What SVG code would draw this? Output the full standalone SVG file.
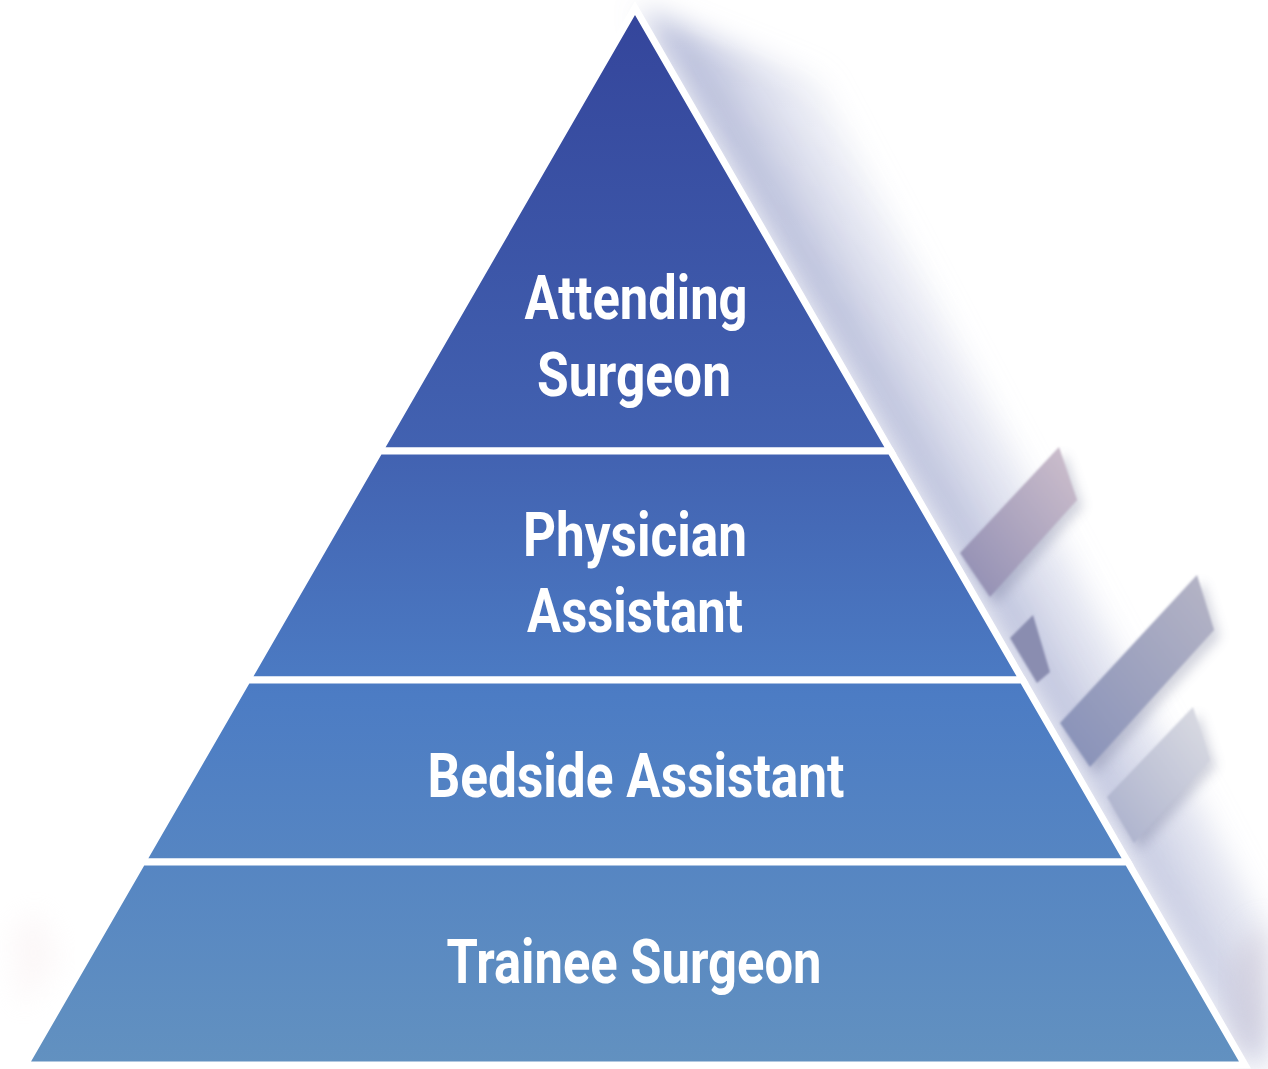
<svg xmlns="http://www.w3.org/2000/svg" width="1268" height="1069" viewBox="0 0 1268 1069">
<defs>
<linearGradient id="pyr" gradientUnits="userSpaceOnUse" x1="0" y1="8" x2="0" y2="1065">
<stop offset="0" stop-color="#34459b"/>
<stop offset="0.42" stop-color="#4262b1"/>
<stop offset="0.65" stop-color="#4c7cc4"/>
<stop offset="1" stop-color="#6291c0"/>
</linearGradient>
<linearGradient id="shade" gradientUnits="userSpaceOnUse" x1="900" y1="470" x2="1064" y2="375">
<stop offset="0" stop-color="#8e97c4" stop-opacity="0.8"/>
<stop offset="0.45" stop-color="#c0c5df" stop-opacity="0.45"/>
<stop offset="1" stop-color="#ffffff" stop-opacity="0"/>
</linearGradient>
<linearGradient id="fadeDown" gradientUnits="userSpaceOnUse" x1="0" y1="0" x2="0" y2="1069">
<stop offset="0" stop-color="#fff" stop-opacity="1"/>
<stop offset="0.7" stop-color="#fff" stop-opacity="0.85"/>
<stop offset="1" stop-color="#fff" stop-opacity="0.6"/>
</linearGradient>
<mask id="shadeMask"><rect width="1268" height="1069" fill="url(#fadeDown)"/></mask>
<linearGradient id="bar1" x1="0" y1="1" x2="1" y2="0">
<stop offset="0" stop-color="#8e8cb2"/>
<stop offset="1" stop-color="#cfc0cd"/>
</linearGradient>
<linearGradient id="bar3" x1="0" y1="1" x2="1" y2="0">
<stop offset="0" stop-color="#8690b8"/>
<stop offset="1" stop-color="#b6b5c6"/>
</linearGradient>
<linearGradient id="bar4" x1="0" y1="1" x2="1" y2="0">
<stop offset="0" stop-color="#a9afcb"/>
<stop offset="1" stop-color="#dcdde4"/>
</linearGradient>
<filter id="blur" x="-30%" y="-30%" width="160%" height="160%"><feGaussianBlur stdDeviation="14"/></filter>
<filter id="soft" x="-20%" y="-20%" width="140%" height="140%"><feGaussianBlur stdDeviation="1"/></filter>
<filter id="barshadow" x="-30%" y="-30%" width="160%" height="160%"><feGaussianBlur stdDeviation="6"/></filter>
</defs>
<style>
.band{fill:url(#pyr);stroke:#ffffff;stroke-width:7;stroke-linejoin:miter}
.lbl{font-family:"Roboto","Liberation Sans",sans-serif;font-weight:700;font-size:61px;fill:#ffffff;text-anchor:middle}
</style>
<rect width="1268" height="1069" fill="#ffffff"/>
<g id="background">
<g mask="url(#shadeMask)">
<polygon points="640,10 1248,1065 1268,1069 1268,930 820,80" fill="url(#shade)" filter="url(#blur)"/>
</g>
<path d="M10,930 L40,910 L60,960 L20,1010 Z" fill="#f4e6e8" opacity="0.3" filter="url(#blur)"/>
<path d="M1230,960 L1268,920 L1268,1030 L1240,1060 Z" fill="#c9c3d3" opacity="0.5" filter="url(#blur)"/>
<g filter="url(#barshadow)" opacity="0.3" fill="#6a6f90">
<polygon points="966,560 1065,454 1083,507 996,604"/>
<polygon points="1066,730 1203,582 1220,637 1096,774"/>
<polygon points="1113,804 1199,714 1216,767 1140,850"/>
</g>
<g filter="url(#soft)">
<polygon points="960,553 1059,447 1077,500 990,597" fill="url(#bar1)"/>
<polygon points="1010,638 1033,615 1050,672 1037,683" fill="#8a8db0"/>
<polygon points="1060,723 1197,575 1214,630 1090,767" fill="url(#bar3)"/>
<polygon points="1107,797 1193,707 1210,760 1134,843" fill="url(#bar4)"/>
</g>
</g>
<g id="attending-surgeon">
<polygon class="band" points="635,8 890.6,451 379.4,451"/>
<text class="lbl" x="636" y="319" textLength="223" lengthAdjust="spacingAndGlyphs">Attending</text>
<text class="lbl" x="634" y="396" textLength="194" lengthAdjust="spacingAndGlyphs">Surgeon</text>
</g>
<g id="physician-assistant">
<polygon class="band" points="379.4,451 890.6,451 1022.7,680 247.3,680"/>
<text class="lbl" x="635" y="556" textLength="224" lengthAdjust="spacingAndGlyphs">Physician</text>
<text class="lbl" x="635" y="632" textLength="216" lengthAdjust="spacingAndGlyphs">Assistant</text>
</g>
<g id="bedside-assistant">
<polygon class="band" points="247.3,680 1022.7,680 1127.8,862 142.2,862"/>
<text class="lbl" x="636" y="797" textLength="417" lengthAdjust="spacingAndGlyphs">Bedside Assistant</text>
</g>
<g id="trainee-surgeon">
<polygon class="band" points="142.2,862 1127.8,862 1245,1065 25,1065"/>
<text class="lbl" x="634" y="983" textLength="375" lengthAdjust="spacingAndGlyphs">Trainee Surgeon</text>
</g>
<g id="connectors"></g>
</svg>
